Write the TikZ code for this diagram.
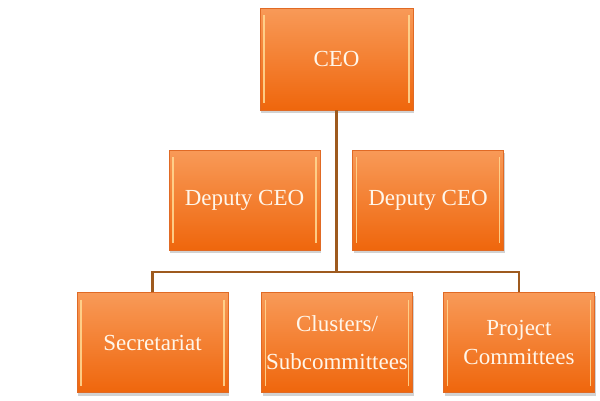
\documentclass[tikz,border=0pt]{standalone}
\usepackage{fontspec}
\setmainfont{Liberation Serif}
\usetikzlibrary{shadows}
\definecolor{boxtop}{HTML}{F89A58}
\definecolor{boxbot}{HTML}{EF660C}
\definecolor{boxedge}{HTML}{E06A25}
\definecolor{hl}{HTML}{FFD690}
\definecolor{conncol}{HTML}{9E5A1E}
\definecolor{txt}{HTML}{FFF6EA}
\tikzset{
  orgbox/.style={draw=boxedge, line width=0.8pt, top color=boxtop, bottom color=boxbot,
    minimum width=151pt, minimum height=100pt, inner sep=2pt, align=center, text=txt,
    font=\fontsize{23}{27.6}\selectfont,
    drop shadow={shadow xshift=1pt, shadow yshift=-3pt, opacity=0.35, fill=gray},
    path picture={
      \draw[hl, line width=1.8pt, opacity=0.9]
        ([xshift=4pt,yshift=-7pt]path picture bounding box.north west) --
        ([xshift=4pt,yshift=7pt]path picture bounding box.south west);
      \draw[hl, line width=1.8pt, opacity=0.9]
        ([xshift=-4pt,yshift=-7pt]path picture bounding box.north east) --
        ([xshift=-4pt,yshift=7pt]path picture bounding box.south east);
    }},
  conn/.style={draw=conncol, line width=2.4pt}
}
\begin{document}
\begin{tikzpicture}[x=1pt,y=-1pt]
\useasboundingbox[fill=white] (0,0) rectangle (600,400);
\node[orgbox, minimum width=153pt, minimum height=102pt] (ceo) at (336.5,59) {CEO};
\node[orgbox] (d1) at (244.5,200) {Deputy CEO};
\node[orgbox] (d2) at (428,200) {Deputy CEO};
\node[orgbox] (s1) at (152.5,342.5) {Secretariat};
\node[orgbox] (s2) at (337,342.5) {Clusters/\\[11pt]Subcommittees};
\node[orgbox] (s3) at (519,342.5) {Project\\[2pt]Committees};
\coordinate (bar) at (337,272);
\draw[conn] (ceo.south) -- (ceo.south |- bar);
\draw[conn] (s1.north) |- (s3.north |- bar) -- (s3.north);
\end{tikzpicture}
\end{document}
